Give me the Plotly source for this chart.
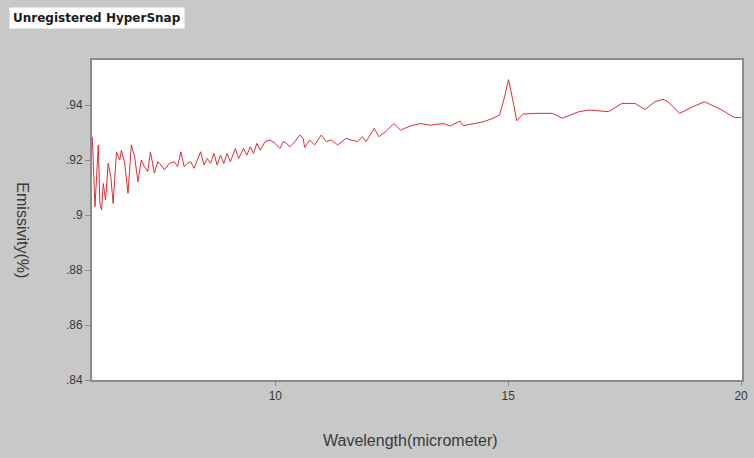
import plotly.graph_objects as go

# Measured emissivity spectrum
wavelength = [
    6.07, 6.128, 6.199, 6.234, 6.270, 6.305, 6.355, 6.411, 6.468, 6.518,
    6.589, 6.660, 6.695, 6.766, 6.837, 6.908, 6.979, 7.050, 7.121, 7.191,
    7.262, 7.319, 7.404, 7.475, 7.546, 7.617, 7.723, 7.830, 7.901, 7.972,
    8.043, 8.113, 8.184, 8.255, 8.397, 8.468, 8.539, 8.610, 8.681, 8.752,
    8.823, 8.894, 8.964, 9.035, 9.142, 9.213, 9.319, 9.390, 9.461, 9.532,
    9.603, 9.674, 9.780, 9.887, 9.993, 10.099, 10.170, 10.241, 10.312, 10.418,
    10.525, 10.596, 10.631, 10.738, 10.844, 10.986, 11.092, 11.199, 11.340, 11.518,
    11.624, 11.766, 11.872, 11.943, 12.014, 12.121, 12.227, 12.369, 12.546, 12.688,
    12.901, 13.113, 13.326, 13.610, 13.752, 13.965, 14.035, 14.248, 14.461, 14.674,
    14.816, 14.922, 15.007, 15.099, 15.184, 15.312, 15.596, 15.950, 16.163, 16.518,
    16.731, 17.156, 17.440, 17.723, 17.936, 18.149, 18.326, 18.433, 18.681, 18.965,
    19.213, 19.567, 19.851, 20.0,
]
emissivity = [
    0.9285, 0.9030, 0.9255, 0.9042, 0.9018, 0.9115, 0.9055, 0.9188, 0.9139, 0.9042,
    0.9230, 0.9200, 0.9236, 0.9188, 0.9079, 0.9255, 0.9212, 0.9121, 0.9200, 0.9176,
    0.9158, 0.9230, 0.9152, 0.9194, 0.9182, 0.9164, 0.9188, 0.9194, 0.9176, 0.9230,
    0.9176, 0.9188, 0.9194, 0.9170, 0.9230, 0.9182, 0.9206, 0.9188, 0.9224, 0.9182,
    0.9218, 0.9188, 0.9224, 0.9194, 0.9242, 0.9206, 0.9242, 0.9218, 0.9248, 0.9224,
    0.9261, 0.9236, 0.9267, 0.9273, 0.9261, 0.9242, 0.9267, 0.9261, 0.9248, 0.9267,
    0.9291, 0.9279, 0.9246, 0.9273, 0.9255, 0.9291, 0.9267, 0.9273, 0.9255, 0.9279,
    0.9273, 0.9267, 0.9285, 0.9267, 0.9285, 0.9315, 0.9285, 0.9303, 0.9333, 0.9309,
    0.9324, 0.9333, 0.9327, 0.9333, 0.9324, 0.9342, 0.9325, 0.9333, 0.9339, 0.9352,
    0.9364, 0.9430, 0.9493, 0.9418, 0.9343, 0.9367, 0.9370, 0.9370, 0.9352, 0.9376,
    0.9382, 0.9376, 0.9406, 0.9406, 0.9384, 0.9412, 0.9421, 0.9412, 0.9370, 0.9394,
    0.9412, 0.9384, 0.9355, 0.9355,
]

x_ticks = [10, 15, 20]
y_ticks = [0.84, 0.86, 0.88, 0.90, 0.92, 0.94]
y_tick_text = [".84", ".86", ".88", ".9", ".92", ".94"]

FONT = "Liberation Sans, Arial, sans-serif"

fig = go.Figure()
fig.add_trace(go.Scatter(
    x=wavelength, y=emissivity, mode="lines",
    line=dict(color="#d8303a", width=1.0),
    hoverinfo="x+y", showlegend=False,
))

fig.update_layout(
    width=754, height=458,
    margin=dict(l=92, r=6, t=60, b=78),
    paper_bgcolor="#c8c8c8",
    plot_bgcolor="#ffffff",
    font=dict(family=FONT, color="#3a3a3a", size=12),
    xaxis=dict(
        range=[6.064, 20.02], tickvals=x_ticks, ticktext=[str(v) for v in x_ticks],
        showgrid=False, zeroline=False,
        showline=True, mirror=True, linecolor="#8a8a8a", linewidth=2,
        ticks="outside", ticklen=4, tickcolor="#8a8a8a",
        tickfont=dict(size=12, family=FONT, color="#3a3a3a"),
    ),
    yaxis=dict(
        range=[0.84, 0.9564], tickvals=y_ticks, ticktext=y_tick_text,
        showgrid=False, zeroline=False,
        showline=True, mirror=True, linecolor="#8a8a8a", linewidth=2,
        ticks="outside", ticklen=5, tickcolor="#8a8a8a",
        tickfont=dict(size=12, family=FONT, color="#3a3a3a"),
    ),
    annotations=[
        dict(text="Wavelength(micrometer)", xref="paper", yref="paper",
             x=(413 - 92) / 656, y=-(440 - 380) / 320,
             xanchor="center", yanchor="middle", showarrow=False,
             font=dict(size=16, family=FONT, color="#3a3a3a")),
        dict(text="Emissivity(%)", xref="paper", yref="paper",
             x=(22 - 92) / 656, y=(380 - 230) / 320, textangle=90,
             xanchor="center", yanchor="middle", showarrow=False,
             font=dict(size=16, family=FONT, color="#3a3a3a")),
        dict(text="<b>Unregistered HyperSnap</b>", xref="paper", yref="paper",
             x=(8 - 92) / 656, y=(380 - 7) / 320,
             xanchor="left", yanchor="top", showarrow=False,
             bgcolor="#ffffff", borderpad=3,
             font=dict(size=12, family="DejaVu Sans, Verdana, sans-serif",
                       color="#1a1a1a")),
    ],
)

fig.write_html("out.html")
